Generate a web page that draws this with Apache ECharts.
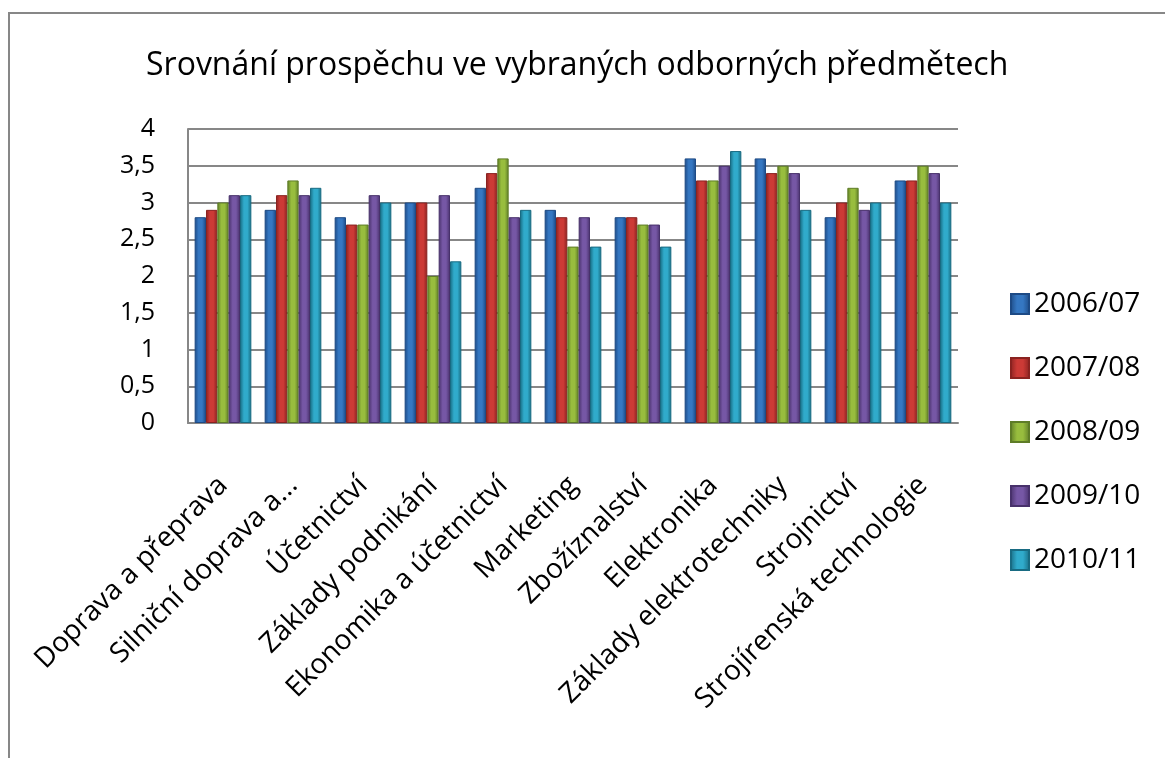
<!DOCTYPE html>
<html>
<head>
<meta charset="utf-8">
<script src="https://cdn.jsdelivr.net/npm/echarts@6/dist/echarts.min.js"></script>
<style>
  html, body { margin: 0; padding: 0; background: #fff; }
  #chart { width: 1165px; height: 758px; }
</style>
</head>
<body>
<div id="chart"></div>
<script>
const subjects = [
  'Doprava a přeprava', 'Silniční doprava a...', 'Účetnictví', 'Základy podnikání',
  'Ekonomika a účetnictví', 'Marketing', 'Zbožíznalství', 'Elektronika',
  'Základy elektrotechniky', 'Strojnictví', 'Strojírenská technologie'
]
const years = ['2006/07', '2007/08', '2008/09', '2009/10', '2010/11']

const y2006 = [2.8, 2.9, 2.8, 3.0, 3.2, 2.9, 2.8, 3.6, 3.6, 2.8, 3.3]
const y2007 = [2.9, 3.1, 2.7, 3.0, 3.4, 2.8, 2.8, 3.3, 3.4, 3.0, 3.3]
const y2008 = [3.0, 3.3, 2.7, 2.0, 3.6, 2.4, 2.7, 3.3, 3.5, 3.2, 3.5]
const y2009 = [3.1, 3.1, 3.1, 3.1, 2.8, 2.8, 2.7, 3.5, 3.4, 2.9, 3.4]
const y2010 = [3.1, 3.2, 3.0, 2.2, 2.9, 2.4, 2.4, 3.7, 2.9, 3.0, 3.0]

const yTicks = [0, 0.5, 1, 1.5, 2, 2.5, 3, 3.5, 4]

// edge / middle colours for the bevelled bars
const palette = [
  ['#1d4a85', '#3577c2'],
  ['#8a2220', '#cc3a36'],
  ['#5e7c27', '#98bd3e'],
  ['#48316b', '#7657a5'],
  ['#186b82', '#30abcb']
]

const font = "'Open Sans', 'Noto Sans', sans-serif"
const grey = '#878787'

const barColor = c => ({
  type: 'linear', x: 0, y: 0, x2: 1, y2: 0,
  colorStops: [
    { offset: 0, color: c[0] },
    { offset: 0.35, color: c[1] },
    { offset: 0.65, color: c[1] },
    { offset: 1, color: c[0] }
  ]
})

const values = [y2006, y2007, y2008, y2009, y2010]

const series = years.map((name, i) => ({
  name: name,
  type: 'bar',
  data: values[i],
  barGap: '0%',
  barCategoryGap: '19%',
  itemStyle: {
    color: barColor(palette[i]),
    borderColor: palette[i][0],
    borderWidth: 1
  }
}))

const chart = echarts.init(document.getElementById('chart'), null, { renderer: 'canvas' })

chart.setOption({
  animation: false,
  backgroundColor: '#fff',
  color: palette.map(p => p[1]),
  graphic: [{
    type: 'rect',
    shape: { x: 9, y: 13, width: 1200, height: 800 },
    style: { fill: 'none', stroke: grey, lineWidth: 2 },
    z: -1
  }],
  title: {
    text: 'Srovnání prospěchu ve vybraných odborných předmětech',
    left: 146,
    top: 50,
    padding: 0,
    textStyle: { fontFamily: font, fontSize: 32, fontWeight: 'normal', color: '#000' }
  },
  legend: {
    orient: 'vertical',
    left: 1010,
    top: 289,
    padding: 0,
    itemWidth: 18,
    itemHeight: 20,
    itemGap: 34,
    icon: 'rect',
    textStyle: { fontFamily: font, fontSize: 28, color: '#000', lineHeight: 30 }
  },
  grid: { left: 188, right: 207, top: 129, bottom: 335 },
  xAxis: {
    type: 'category',
    data: subjects,
    axisTick: { show: false },
    axisLine: { lineStyle: { color: grey, width: 2 } },
    axisLabel: {
      rotate: 45,
      interval: 0,
      margin: 58,
      fontFamily: font,
      fontSize: 28,
      color: '#000'
    }
  },
  yAxis: {
    type: 'value',
    min: yTicks[0],
    max: yTicks[yTicks.length - 1],
    interval: 0.5,
    axisLine: { show: true, lineStyle: { color: grey, width: 2 } },
    axisTick: { show: false },
    splitLine: { lineStyle: { color: grey, width: 2 } },
    axisLabel: {
      margin: 33,
      fontFamily: font,
      fontSize: 25,
      color: '#000',
      formatter: v => String(v).replace('.', ',')
    }
  },
  series: series
})
</script>
</body>
</html>
